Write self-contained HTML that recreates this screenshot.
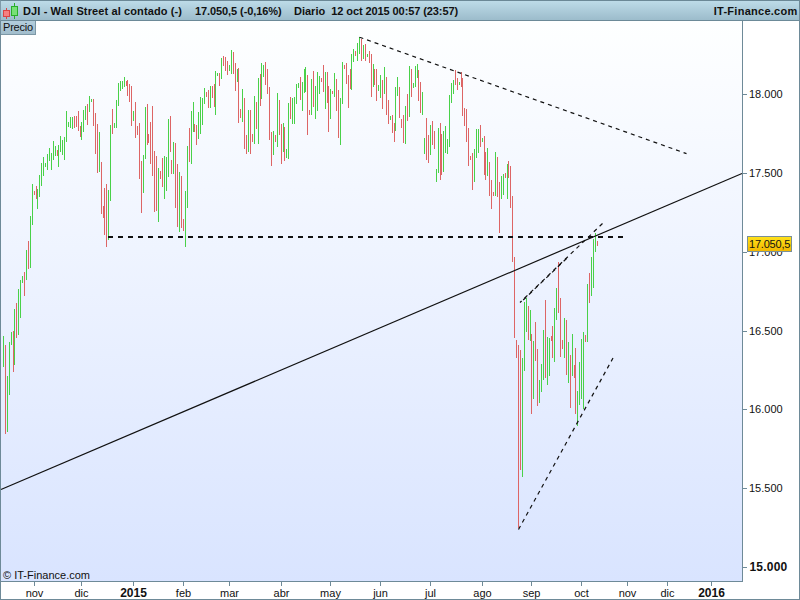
<!DOCTYPE html>
<html><head><meta charset="utf-8"><title>DJI</title>
<style>
html,body{margin:0;padding:0;background:#fff;}
body{width:800px;height:600px;overflow:hidden;position:relative;font-family:"Liberation Sans",sans-serif;}
#hdr{position:absolute;left:0;top:0;width:800px;height:21px;box-sizing:border-box;border-top:1px solid #6b8896;border-bottom:1px solid #6c8a98;border-left:1px solid #7f9baa;background:linear-gradient(#bddbe8,#9cbccb);}
.ht{position:absolute;top:3px;font-weight:bold;font-size:11px;line-height:14px;color:#111;white-space:pre;}
#precio{position:absolute;left:0;top:21px;width:36px;height:14px;box-sizing:border-box;border-left:1px solid #7f9baa;border-right:1px solid #7d98a6;border-bottom:1px solid #7d98a6;background:linear-gradient(#b3cedc,#a1bdcc);font-size:11px;line-height:13px;color:#111;padding-left:2px;letter-spacing:-0.2px;}
#plot{position:absolute;left:0;top:21px;width:742px;height:560px;background:linear-gradient(#feffff,#d9e4ff);}
#svg{position:absolute;left:0;top:0;}
.yl{position:absolute;left:749px;font-size:11px;line-height:12px;color:#111;}
.xl{position:absolute;top:587px;font-size:11px;line-height:12px;color:#111;transform:translateX(-50%);white-space:nowrap;}
.xl.b{font-weight:bold;font-size:12px;top:587px;}
#copy{position:absolute;left:3px;top:569px;font-size:11px;line-height:12px;color:#111;}
#cur{position:absolute;left:747px;top:236px;width:45px;height:16px;padding-top:1px;box-sizing:border-box;border:1px solid #7a8f96;background:linear-gradient(#ffe11a,#f2b800);letter-spacing:-0.2px;font-size:11px;line-height:13px;color:#111;padding-left:1px;}
</style></head><body>
<div id="plot"></div>
<div id="hdr">
<span class="ht" style="left:22px;letter-spacing:0.115px">DJI - Wall Street al contado (-)</span>
<span class="ht" style="left:194px;letter-spacing:-0.09px">17.050,5 (-0,16%)</span>
<span class="ht" style="left:293px">Diario</span>
<span class="ht" style="left:330.3px;letter-spacing:-0.09px">12 oct 2015 00:57 (23:57)</span>
<span class="ht" style="left:712.7px;letter-spacing:0.27px">IT-Finance.com</span>
</div>
<div id="precio">Precio</div>

<div class="yl" style="top:88px">18.000</div>
<div class="yl" style="top:167px">17.500</div>
<div class="yl" style="top:246px">17.000</div>
<div class="yl" style="top:325px">16.500</div>
<div class="yl" style="top:403px">16.000</div>
<div class="yl" style="top:482px">15.500</div>
<div class="yl" style="top:561px;font-weight:bold;font-size:12px;left:749.5px;letter-spacing:0.2px">15.000</div>
<div id="cur">17.050,5</div>
<div class="xl" style="left:34.5px">nov</div>
<div class="xl" style="left:81.5px">dic</div>
<div class="xl b" style="left:133.5px">2015</div>
<div class="xl" style="left:183.5px">feb</div>
<div class="xl" style="left:229.5px">mar</div>
<div class="xl" style="left:281.5px">abr</div>
<div class="xl" style="left:330.5px">may</div>
<div class="xl" style="left:380.5px">jun</div>
<div class="xl" style="left:430.5px">jul</div>
<div class="xl" style="left:482.5px">ago</div>
<div class="xl" style="left:531.5px">sep</div>
<div class="xl" style="left:581.5px">oct</div>
<div class="xl" style="left:627.5px">nov</div>
<div class="xl" style="left:667.5px">dic</div>
<div class="xl b" style="left:711.5px">2016</div>
<div id="copy">© IT-Finance.com</div>
<svg id="svg" width="800" height="600" viewBox="0 0 800 600">
<path d="M3.5 336V367M7.5 376V432M9.5 342V395M11.5 332V345M14.5 309V365M18.5 289V335M20.5 280V318M22.5 276V283M26.5 250V280M30.5 216V268M32.5 184V225M37.5 189V209M39.5 175V197M41.5 163V186M43.5 157V176M45.5 163V167M47.5 154V170M49.5 148V161M51.5 153V170M53.5 141V160M55.5 146V156M58.5 145V167M60.5 136V152M62.5 140V155M64.5 137V160M66.5 111V142M68.5 122V127M70.5 117V128M72.5 117V129M81.5 122V140M83.5 110V132M85.5 106V120M89.5 96V112M91.5 99V102M99.5 132V172M108.5 190V240M110.5 125V201M114.5 123V128M116.5 100V128M118.5 83V106M120.5 81V91M122.5 81V89M124.5 77V87M133.5 111V121M143.5 155V193M145.5 107V159M158.5 168V222M164.5 156V199M166.5 157V191M168.5 119V177M173.5 142V174M179.5 172V232M185.5 191V247M187.5 146V208M191.5 111V164M193.5 102V132M198.5 112V139M200.5 97V134M202.5 98V125M204.5 88V104M210.5 86V108M215.5 71V115M217.5 73V76M221.5 58V79M229.5 65V71M231.5 50V74M237.5 69V82M242.5 89V122M248.5 110V152M254.5 96V144M258.5 78V144M261.5 63V99M263.5 65V77M273.5 131V155M277.5 93V147M283.5 123V152M286.5 149V158M288.5 103V159M292.5 98V124M294.5 97V124M296.5 84V104M298.5 83V88M302.5 82V111M304.5 69V93M305.5 67V92M311.5 79V115M315.5 86V119M317.5 72V111M319.5 76V94M325.5 72V109M330.5 89V119M334.5 73V97M340.5 98V145M342.5 62V104M351.5 54V90M353.5 49V62M357.5 43V61M359.5 37V54M363.5 45V59M367.5 54V57M373.5 64V87M378.5 85V91M380.5 75V98M384.5 67V94M390.5 116V120M395.5 87V131M397.5 77V96M405.5 106V144M409.5 66V117M413.5 83V88M415.5 66V87M417.5 64V78M422.5 92V115M424.5 138V154M430.5 125V155M436.5 169V182M438.5 128V173M443.5 131V172M445.5 126V153M447.5 139V154M449.5 95V147M451.5 83V103M453.5 80V94M459.5 82V85M474.5 149V182M476.5 129V158M478.5 129V153M482.5 138V142M487.5 148V176M495.5 152V196M501.5 176V199M503.5 174V195M507.5 164V199M522.5 358V477M524.5 302V371M526.5 298V332M530.5 310V341M533.5 341V399M539.5 380V403M541.5 364V392M543.5 330V380M547.5 337V385M549.5 338V376M554.5 308V362M556.5 288V320M564.5 318V358M568.5 342V383M572.5 334V376M577.5 391V426M579.5 362V405M581.5 339V399M583.5 332V409M587.5 284V342M591.5 257V296M593.5 239V288M595.5 233V252" stroke="#49d149" stroke-width="1" fill="none" shape-rendering="crispEdges"/>
<path d="M5.5 345V434M13.5 331V372M16.5 303V338M24.5 272V296M28.5 241V269M34.5 191V195M36.5 186V199M57.5 150V156M74.5 116V128M76.5 116V127M78.5 111V131M80.5 126V137M87.5 104V125M93.5 99V126M95.5 113V154M97.5 124V173M101.5 162V214M103.5 206V218M104.5 188V235M106.5 184V247M112.5 109V134M126.5 81V86M127.5 80V96M129.5 84V102M131.5 86V126M135.5 102V138M137.5 126V135M139.5 123V179M141.5 161V213M147.5 104V145M148.5 134V143M150.5 122V164M152.5 106V176M154.5 151V212M156.5 156V211M160.5 171V179M162.5 158V187M170.5 116V152M171.5 160V174M175.5 143V208M177.5 164V227M181.5 176V228M183.5 219V231M189.5 128V162M194.5 124V132M196.5 125V145M206.5 92V97M208.5 90V108M212.5 86V98M214.5 84V107M219.5 73V86M223.5 56V66M225.5 57V71M227.5 61V75M233.5 52V74M235.5 63V91M238.5 68V123M240.5 109V118M244.5 98V149M246.5 135V154M250.5 110V154M252.5 134V142M256.5 102V129M260.5 74V106M265.5 62V85M267.5 69V94M269.5 87V140M271.5 132V166M275.5 135V142M279.5 100V135M281.5 124V164M284.5 127V161M290.5 97V119M300.5 77V100M307.5 75V135M309.5 110V115M313.5 71V107M321.5 78V82M323.5 65V92M327.5 72V103M328.5 86V132M332.5 91V94M336.5 79V111M338.5 90V138M344.5 65V69M346.5 63V84M348.5 75V108M350.5 69V89M355.5 51V56M361.5 39V61M365.5 44V61M369.5 51V63M371.5 54V97M374.5 69V85M376.5 69V101M382.5 80V109M386.5 77V115M388.5 100V124M392.5 115V133M394.5 123V142M399.5 87V118M401.5 119V128M403.5 115V143M407.5 94V121M411.5 69V97M418.5 70V101M420.5 82V113M426.5 118V160M428.5 135V163M432.5 121V145M434.5 131V149M440.5 123V180M441.5 134V175M455.5 70V85M457.5 78V90M461.5 72V87M462.5 78V116M464.5 108V126M466.5 109V142M468.5 128V166M470.5 156V160M472.5 153V190M480.5 125V147M484.5 136V175M485.5 152V180M489.5 162V196M491.5 180V209M493.5 192V196M497.5 157V197M499.5 182V233M505.5 173V178M508.5 161V178M510.5 166V208M512.5 196V262M514.5 257V338M516.5 340V358M518.5 345V528M520.5 350V470M528.5 306V340M531.5 334V414M535.5 322V361M537.5 349V406M545.5 300V378M551.5 336V341M552.5 326V358M558.5 262V313M560.5 298V357M562.5 340V349M566.5 320V375M570.5 355V408M574.5 365V378M575.5 348V414M585.5 335V342M589.5 273V303M597.5 241V246" stroke="#dd6565" stroke-width="1" fill="none" shape-rendering="crispEdges"/>
<g shape-rendering="crispEdges" stroke="#6e8a98" stroke-width="1" fill="none">
<path d="M0.5 21V599"/>
<path d="M742.5 21V582"/>
<path d="M0 581.5H743"/>
<path d="M0 599.5H800"/>
<path d="M799.5 0V600"/>
<path d="M743 94.5H747"/>
<path d="M743 173.5H747"/>
<path d="M743 252.5H747"/>
<path d="M743 331.5H747"/>
<path d="M743 409.5H747"/>
<path d="M743 488.5H747"/>
<path d="M743 567.5H747"/>
<path d="M34.5 582V586"/>
<path d="M81.5 582V586"/>
<path d="M133.5 582V586"/>
<path d="M183.5 582V586"/>
<path d="M229.5 582V586"/>
<path d="M281.5 582V586"/>
<path d="M330.5 582V586"/>
<path d="M380.5 582V586"/>
<path d="M430.5 582V586"/>
<path d="M482.5 582V586"/>
<path d="M531.5 582V586"/>
<path d="M581.5 582V586"/>
<path d="M627.5 582V586"/>
<path d="M667.5 582V586"/>
<path d="M711.5 582V586"/>
</g>
<path d="M1 489.5L742 173.5" stroke="#111" stroke-width="1.2" fill="none"/>
<path d="M108 237H623" stroke="#111" stroke-width="2.2" stroke-dasharray="5 5" fill="none"/>
<path d="M359.5 37.2L686.5 153.6" stroke="#111" stroke-width="1.2" stroke-dasharray="4 4" fill="none"/>
<path d="M518.5 529.5L613 358" stroke="#111" stroke-width="1.2" stroke-dasharray="4 4" fill="none"/>
<path d="M602.5 223.5L520 302.5" stroke="#111" stroke-width="1.2" stroke-dasharray="4 4" fill="none"/>
<path d="M523.2 300L568 257.1" stroke="#111" stroke-width="1.2" stroke-dasharray="4 4" fill="none"/>
<g shape-rendering="crispEdges"><path d="M6.5 8V19" stroke="#da4444"/><rect x="3.5" y="10.5" width="6" height="6" fill="#f68080" stroke="#da4444"/><path d="M14.5 3V19" stroke="#29ae29"/><rect x="11.5" y="6.5" width="6" height="9" fill="#77e077" stroke="#29ae29"/></g>
</svg>
</body></html>
